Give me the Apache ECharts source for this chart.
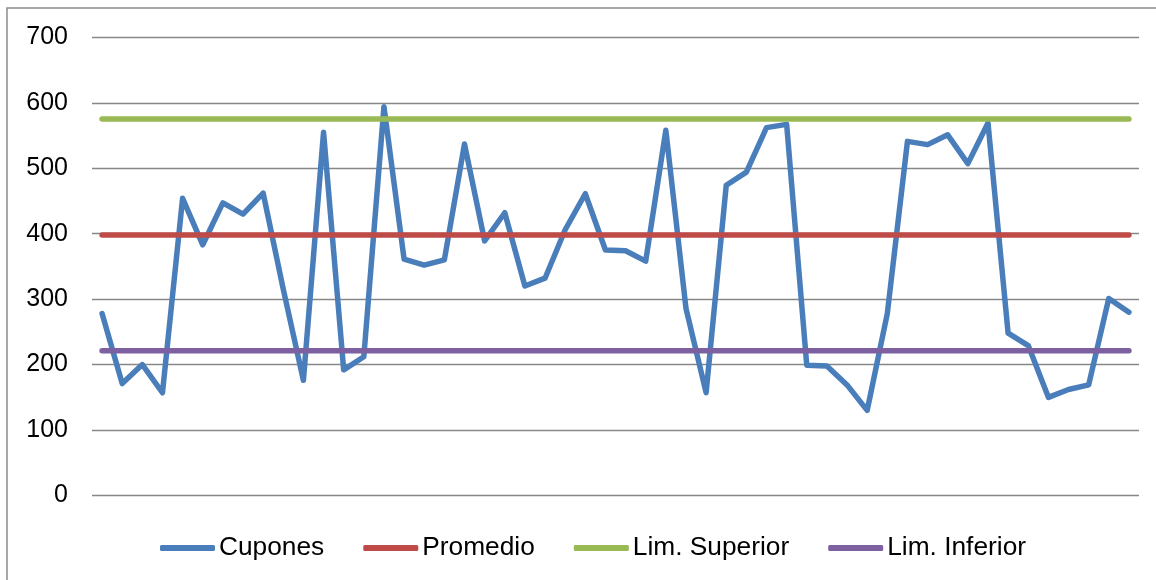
<!DOCTYPE html>
<html>
<head>
<meta charset="utf-8">
<title>Cupones</title>
<script src="https://cdn.jsdelivr.net/npm/echarts@6/dist/echarts.min.js"></script>
<style>
  html, body { margin: 0; padding: 0; background: #ffffff; }
  #chart { width: 1156px; height: 580px; }
</style>
</head>
<body>
<div id="chart"></div>
<script>
// Weekly coupon counts with control limits
const categories = Array.from({ length: 52 }, (_, i) => String(i + 1));
const cupones = [278, 171, 200, 157, 454, 383, 447, 430, 462, 315, 176, 555, 192, 212, 594, 361,
  352, 360, 537, 389, 432, 320, 332, 406, 461, 375, 374, 358, 558, 286, 157, 474,
  494, 562, 567, 199, 198, 169, 130, 278, 541, 536, 551, 507, 569, 248, 229, 150,
  162, 169, 301, 280];
const promedioValue = 398;
const limSuperiorValue = 575;
const limInferiorValue = 221;
const seriesNames = ['Cupones', 'Promedio', 'Lim. Superior', 'Lim. Inferior'];
const yTicks = { min: 0, max: 700, interval: 100 };

const promedio = categories.map(() => promedioValue);
const limSuperior = categories.map(() => limSuperiorValue);
const limInferior = categories.map(() => limInferiorValue);

const colors = ['#4A7EBB', '#BE4B48', '#98B954', '#7D60A0'];
const font = '"Liberation Sans", Arial, sans-serif';

function lineSeries(name, data, color) {
  return {
    name: name,
    type: 'line',
    data: data,
    symbol: 'none',
    smooth: false,
    lineStyle: { color: color, width: 5.5, cap: 'round', join: 'round' },
    itemStyle: { color: color }
  };
}

const chart = echarts.init(document.getElementById('chart'), null, { renderer: 'canvas' });
chart.setOption({
  animation: false,
  backgroundColor: '#ffffff',
  graphic: [{
    type: 'rect',
    shape: { x: 7, y: 8, width: 1200, height: 620 },
    style: { fill: 'none', stroke: '#8c8c8c', lineWidth: 1.5 },
    silent: true
  }],
  grid: { left: 92, right: 17, top: 37.3, bottom: 84.5, containLabel: false },
  legend: {
    data: seriesNames,
    left: 155,
    top: 530,
    icon: 'roundRect',
    itemWidth: 55,
    itemHeight: 6,
    itemGap: 39,
    textStyle: { fontFamily: font, fontSize: 26.3, color: '#000000', padding: [0, 0, 0, -1] }
  },
  xAxis: {
    type: 'category',
    data: categories,
    boundaryGap: true,
    axisLine: { show: false },
    axisTick: { show: false },
    axisLabel: { show: false },
    splitLine: { show: false }
  },
  yAxis: {
    type: 'value',
    min: yTicks.min,
    max: yTicks.max,
    interval: yTicks.interval,
    axisLine: { show: false },
    axisTick: { show: false },
    axisLabel: { fontFamily: font, fontSize: 25, color: '#000000', margin: 24 },
    splitLine: { show: true, lineStyle: { color: '#878787', width: 1.3 } }
  },
  series: [
    lineSeries(seriesNames[0], cupones, colors[0]),
    lineSeries(seriesNames[1], promedio, colors[1]),
    lineSeries(seriesNames[2], limSuperior, colors[2]),
    lineSeries(seriesNames[3], limInferior, colors[3])
  ]
});
</script>
</body>
</html>
